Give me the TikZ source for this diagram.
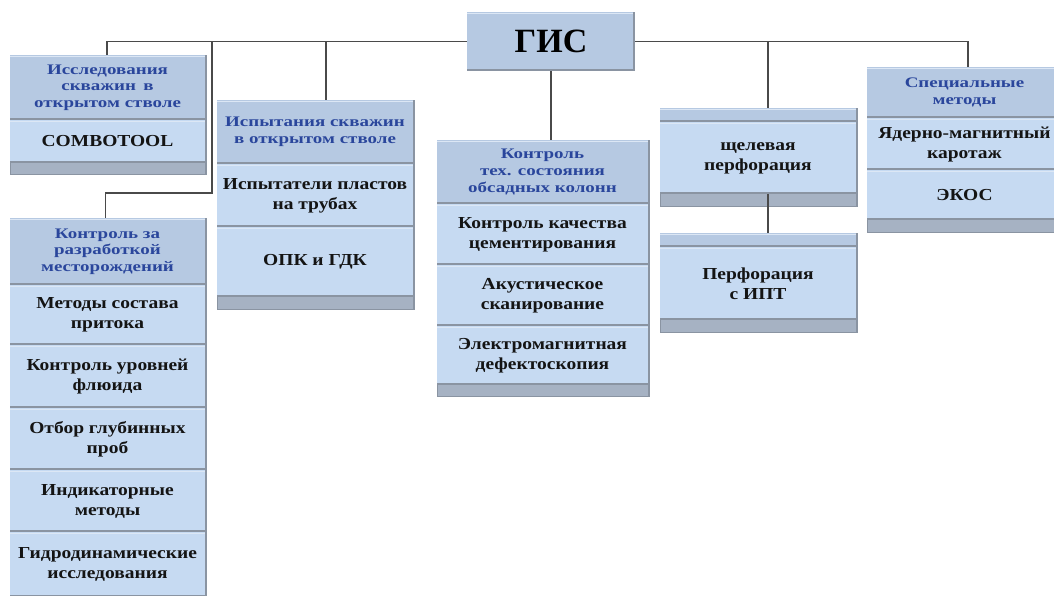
\documentclass[tikz,border=0pt]{standalone}
\usepackage{fontspec}
\setmainfont{Liberation Serif}
\newfontfamily\hfont{Liberation Serif Bold}[FakeStretch=1.3]
\newfontfamily\ifont{Liberation Serif Bold}[FakeStretch=1.16]
\newfontfamily\gfont{Liberation Serif Bold}
\definecolor{hdrfill}{HTML}{B6C9E2}
\definecolor{itemfill}{HTML}{C6DAF2}
\definecolor{stripfill}{HTML}{A6B2C3}
\definecolor{edgegray}{HTML}{8A94A2}
\definecolor{hdrtext}{HTML}{2A469C}
\definecolor{itemtext}{HTML}{141414}
\definecolor{linegray}{HTML}{4A4A4A}
\definecolor{lightedge}{HTML}{DCE7F5}
\tikzset{
  cellbase/.style={rectangle, inner sep=0pt, outer sep=0pt, align=center},
  hdrcell/.style={cellbase, fill=hdrfill, text=hdrtext, font=\hfont\fontsize{14.6}{16.6}\selectfont},
  itemcell/.style={cellbase, fill=itemfill, text=itemtext, font=\ifont\fontsize{16.8}{20}\selectfont},
  giscell/.style={cellbase, fill=hdrfill, text=black, font=\gfont\fontsize{34}{36}\selectfont},
  conn/.style={draw=linegray, line width=1.8pt},
  bevlight/.style={draw=lightedge, line width=1pt},
  bevdark/.style={draw=edgegray, line width=1.6pt},
}
\newcommand\mycell[7]{%
  \pgfmathsetmacro\mycx{(#3+#5)/2}\pgfmathsetmacro\mycy{(#4+#6)/2}%
  \pgfmathsetmacro\mycw{#5-#3}\pgfmathsetmacro\mych{#6-#4}%
  \node[#2, minimum width=\mycw pt, minimum height=\mych pt] (#1) at (\mycx,\mycy) {#7};
  \draw[bevlight] ([yshift=-1pt]#1.north west) -- ([yshift=-1pt]#1.north east);
  \draw[bevdark] ([yshift=1pt]#1.south west) -- ([yshift=1pt]#1.south east);}
\newcommand\myframe[4]{%
  \fill[stripfill] (#1,#2) rectangle (#3,#4);
  \draw[edgegray, line width=1.2pt] (#1+0.6,#2) -- (#1+0.6,#4);
  \draw[edgegray, line width=2pt] (#3-1,#2) -- (#3-1,#4);
  \draw[edgegray, line width=1pt] (#1,#4-0.5) -- (#3,#4-0.5);}
\begin{document}
\begin{tikzpicture}[x=1pt,y=-1pt]
\useasboundingbox (0,0) rectangle (1054,595);
\fill[white] (0,0) rectangle (1054,595);

% GIS
\mycell{gis}{giscell}{467}{12}{635}{71}{ГИС}
\draw[edgegray, line width=2pt] (634,12) -- (634,71);

% Box A
\myframe{10}{55}{207}{175}
\mycell{ah}{hdrcell}{10}{55}{205}{120}{Исследования\\скважин\enspace в\\открытом стволе}
\mycell{a1}{itemcell}{10}{120}{205}{163}{COMBOTOOL}

% Box B
\myframe{217}{100}{415}{310}
\mycell{bh}{hdrcell}{217}{100}{413}{164}{Испытания скважин\\в открытом стволе}
\mycell{b1}{itemcell}{217}{164}{413}{227}{Испытатели пластов\\на трубах}
\mycell{b2}{itemcell}{217}{227}{413}{297}{ОПК и ГДК}

% Box C
\myframe{10}{218}{207}{597}
\mycell{ch}{hdrcell}{10}{218}{205}{285}{Контроль за\\разработкой\\месторождений}
\mycell{c1}{itemcell}{10}{285}{205}{345}{Методы состава\\притока}
\mycell{c2}{itemcell}{10}{345}{205}{408}{Контроль уровней\\флюида}
\mycell{c3}{itemcell}{10}{408}{205}{470}{Отбор глубинных\\проб}
\mycell{c4}{itemcell}{10}{470}{205}{532}{Индикаторные\\методы}
\mycell{c5}{itemcell}{10}{532}{205}{597}{Гидродинамические\\исследования}

% Box D
\myframe{437}{140}{650}{397}
\mycell{dh}{hdrcell}{437}{140}{648}{204}{Контроль\\тех. состояния\\обсадных колонн}
\mycell{d1}{itemcell}{437}{204}{648}{265}{Контроль качества\\цементирования}
\mycell{d2}{itemcell}{437}{265}{648}{326}{Акустическое\\сканирование}
\mycell{d3}{itemcell}{437}{326}{648}{385}{Электромагнитная\\дефектоскопия}

% Box E
\myframe{660}{108}{858}{207}
\mycell{et}{hdrcell}{660}{108}{856}{122}{}
\mycell{e1}{itemcell}{660}{122}{856}{194}{щелевая\\перфорация}

% Box F
\myframe{660}{233}{858}{333}
\mycell{ft}{hdrcell}{660}{233}{856}{247}{}
\mycell{f1}{itemcell}{660}{247}{856}{320}{Перфорация\\с ИПТ}

% Box G
\myframe{867}{67}{1062}{233}
\mycell{gh}{hdrcell}{867}{67}{1062}{118}{Специальные\\методы}
\mycell{g1}{itemcell}{867}{118}{1062}{170}{Ядерно-магнитный\\каротаж}
\mycell{g2}{itemcell}{867}{170}{1062}{220}{ЭКОС}

% connectors
\coordinate (jc) at (212,41);
\coordinate (jb) at (326,41);
\coordinate (je) at (768,41);
\coordinate (jg) at (968,41);
\draw[conn] (gis.west) -| ([xshift=-0.5pt]ah.north);
\draw[conn] (jc) -- (212,193) -| ([xshift=-2pt]ch.north);
\draw[conn] (jb) -- (jb |- bh.north);
\draw[conn] (gis.east) -| (jg |- gh.north);
\draw[conn] (je) -- (je |- et.north);
\draw[conn] (gis.south) -- (gis.south |- dh.north);
\draw[conn] (e1.south -| je) -- (je |- ft.north);
\end{tikzpicture}
\end{document}
